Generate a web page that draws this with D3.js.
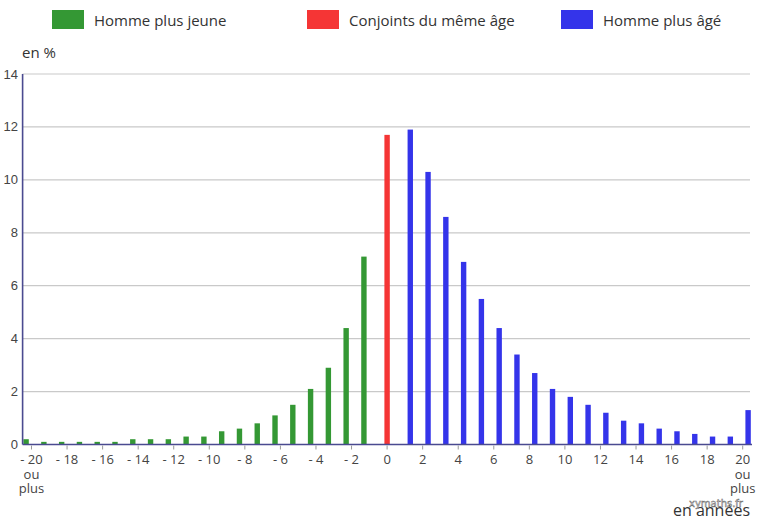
<!DOCTYPE html>
<html>
<head>
<meta charset="utf-8">
<script src="https://cdn.jsdelivr.net/npm/d3@7"></script>
<style>
  html, body { margin: 0; padding: 0; background: #fff; }
  svg { display: block; }
</style>
</head>
<body>
<svg id="chart" width="759" height="521"></svg>
<script>
// ---- Data ----
const categories = d3.range(-20, 21);            // écart d'âge en années
const seriesNames = ["Homme plus jeune", "Conjoints du même âge", "Homme plus âgé"];
const seriesColors = ["#349834", "#f53535", "#3434ea"];
const youngerCats = d3.range(-20, 0);
const youngerValues = [0.2, 0.1, 0.1, 0.1, 0.1, 0.1, 0.2, 0.2, 0.2, 0.3,
                       0.3, 0.5, 0.6, 0.8, 1.1, 1.5, 2.1, 2.9, 4.4, 7.1];
const sameCats = [0];
const sameValues = [11.7];
const olderCats = d3.range(1, 21);
const olderValues = [11.9, 10.3, 8.6, 6.9, 5.5, 4.4, 3.4, 2.7, 2.1, 1.8,
                     1.5, 1.2, 0.9, 0.8, 0.6, 0.5, 0.4, 0.3, 0.3, 1.3];
const yTicks = [0, 2, 4, 6, 8, 10, 12, 14];
const xTickCats = d3.range(-20, 21, 2);

const records = [];
youngerCats.forEach((c, i) => records.push({cat: c, s: 0, v: youngerValues[i]}));
sameCats.forEach((c, i) => records.push({cat: c, s: 1, v: sameValues[i]}));
olderCats.forEach((c, i) => records.push({cat: c, s: 2, v: olderValues[i]}));

// ---- Layout ----
const svg = d3.select("#chart");
const pLeft = 22.6, pRight = 751.6, pTop = 74, pBottom = 444.5;

const x = d3.scaleBand().domain(categories).range([pLeft, pRight])
  .paddingInner(0.09).paddingOuter(0.045);
const sub = d3.scaleBand().domain([0, 1, 2]).range([0, x.bandwidth()]);
const y = d3.scaleLinear().domain([0, 14]).range([pBottom, pTop]);

// gridlines
svg.append("g").selectAll("line").data(yTicks.filter(t => t > 0)).join("line")
  .attr("x1", pLeft).attr("x2", 750)
  .attr("y1", d => y(d)).attr("y2", d => y(d))
  .attr("stroke", "#c9c9c9").attr("stroke-width", 1.2);

// y tick labels
svg.append("g").selectAll("text").data(yTicks).join("text")
  .attr("x", 18).attr("y", d => y(d)).attr("dy", "0.35em")
  .attr("text-anchor", "end")
  .attr("font-family", "Liberation Sans, Arial, sans-serif")
  .attr("font-size", 13).attr("fill", "#444")
  .text(d => d);

// bars
svg.append("g").selectAll("rect").data(records).join("rect")
  .attr("x", d => x(d.cat) + sub(d.s))
  .attr("width", sub.bandwidth())
  .attr("y", d => y(d.v))
  .attr("height", d => y(0) - y(d.v))
  .attr("fill", d => seriesColors[d.s]);

// axes lines
svg.append("line").attr("x1", pLeft).attr("x2", pLeft).attr("y1", pTop).attr("y2", pBottom)
  .attr("stroke", "#4a4a90").attr("stroke-width", 1.6);
svg.append("line").attr("x1", pLeft).attr("x2", 752).attr("y1", pBottom).attr("y2", pBottom)
  .attr("stroke", "#4a4a90").attr("stroke-width", 1.6);

// x ticks
const cx = c => x(c) + x.bandwidth() / 2;
svg.append("g").selectAll("line").data(xTickCats).join("line")
  .attr("x1", d => cx(d)).attr("x2", d => cx(d))
  .attr("y1", pBottom + 1).attr("y2", pBottom + 5)
  .attr("stroke", "#999").attr("stroke-width", 1);

const xl = svg.append("g").attr("font-family", "Open Sans, sans-serif")
  .attr("font-size", 13).attr("fill", "#444").attr("text-anchor", "middle");
const labels = xl.selectAll("text.t").data(xTickCats).join("text").attr("class", "t")
  .attr("x", d => cx(d)).attr("y", 464);
labels.each(function(d) {
  const t = d3.select(this);
  const main = d < 0 ? "- " + Math.abs(d) : String(d);
  t.append("tspan").attr("x", cx(d)).text(main);
  if (d === -20 || d === 20) {
    t.append("tspan").attr("x", cx(d)).attr("dy", 15).text("ou");
    t.append("tspan").attr("x", cx(d)).attr("dy", 14).text("plus");
  }
});

// axis titles
svg.append("text").attr("x", 22).attr("y", 58)
  .attr("font-family", "Open Sans, sans-serif").attr("font-size", 15)
  .attr("fill", "#333").text("en %");
svg.append("text").attr("x", 750).attr("y", 516).attr("text-anchor", "end")
  .attr("font-family", "Open Sans, sans-serif").attr("font-size", 16)
  .attr("fill", "#333").text("en années");
svg.append("text").attr("x", 716).attr("y", 507).attr("text-anchor", "middle")
  .attr("font-family", "DejaVu Sans, sans-serif").attr("font-size", 10)
  .attr("fill", "#fff").attr("stroke", "#666").attr("stroke-width", 0.5)
  .text("xymaths.fr");

// legend
const legendX = [52, 307, 561];
const lg = svg.append("g").selectAll("g").data(seriesNames).join("g")
  .attr("transform", (d, i) => `translate(${legendX[i]},10)`);
lg.append("rect").attr("width", 32).attr("height", 19)
  .attr("fill", (d, i) => seriesColors[i]);
lg.append("text").attr("x", 42).attr("y", 16)
  .attr("font-family", "Open Sans, sans-serif").attr("font-size", 15)
  .attr("fill", "#333").text(d => d);
</script>
</body>
</html>
